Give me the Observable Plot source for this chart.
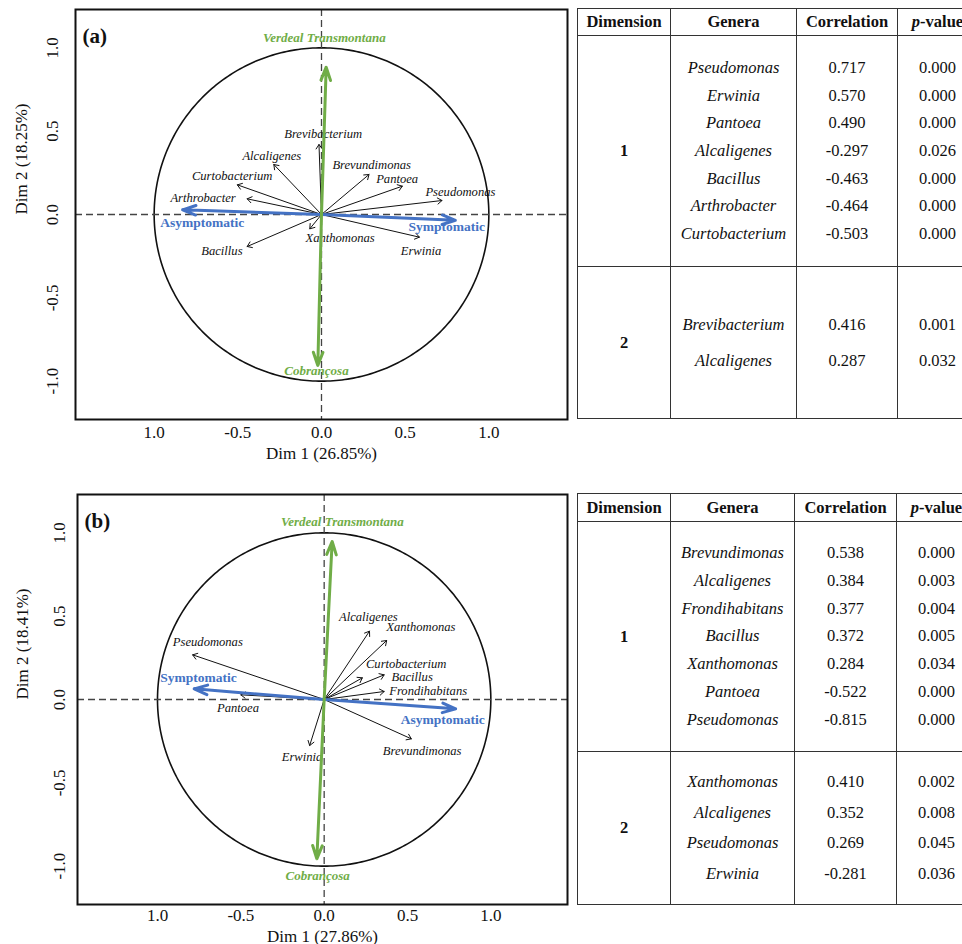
<!DOCTYPE html>
<html><head><meta charset="utf-8">
<script src="https://cdn.jsdelivr.net/npm/d3@7"></script>
<script src="https://cdn.jsdelivr.net/npm/@observablehq/plot@0.6"></script>
<style>
html,body{margin:0;padding:0;background:#fff;overflow:hidden;}
#root{position:relative;width:962px;height:944px;font-family:"Liberation Serif","Times New Roman",serif;color:#111;}
.panel{position:absolute;left:0;}
.tbl{position:absolute;display:grid;border-top:1.5px solid #333;border-left:1.5px solid #333;font-size:16.5px;color:#111;}
.tbl > div{border-right:1.5px solid #333;border-bottom:1.5px solid #333;display:flex;flex-direction:column;justify-content:center;align-items:center;box-sizing:border-box;}
.hdr{font-weight:bold;}
.it{font-style:italic;}
.line{white-space:nowrap;display:flex;align-items:center;justify-content:center;}
</style></head><body><div id="root"></div><script>
// ---------- Panel (a) data ----------
const generaA = ["Pseudomonas","Erwinia","Pantoea","Alcaligenes","Bacillus","Arthrobacter","Curtobacterium","Brevibacterium","Brevundimonas","Xanthomonas"];
const dim1A   = [0.720, 0.585, 0.483, -0.285, -0.444, -0.444, -0.503, -0.015, 0.284, -0.070];
const dim2A   = [0.084, -0.136, 0.170, 0.300, -0.192, 0.094, 0.178, 0.420, 0.240, -0.086];
const labXA   = [0.830, 0.595, 0.452, -0.297, -0.595, -0.708, -0.534, 0.010, 0.300, 0.111];
const labYA   = [0.134, -0.216, 0.214, 0.354, -0.216, 0.100, 0.230, 0.484, 0.300, -0.140];
const suppA   = ["Verdeal Transmontana","Cobrançosa","Asymptomatic","Symptomatic"];
const suppKindA = ["cultivar","cultivar","status","status"];
const sDim1A  = [0.028, -0.022, -0.830, 0.800];
const sDim2A  = [0.884, -0.906, 0.028, -0.035];
const sLabXA  = [0.017, -0.030, -0.713, 0.749];
const sLabYA  = [1.058, -0.936, -0.052, -0.076];

// ---------- Panel (b) data ----------
const generaB = ["Pseudomonas","Pantoea","Alcaligenes","Xanthomonas","Curtobacterium","Bacillus","Frondihabitans","Brevundimonas","Erwinia"];
const dim1B   = [-0.789, -0.500, 0.272, 0.375, 0.229, 0.360, 0.360, 0.523, -0.087];
const dim2B   = [0.268, 0.028, 0.410, 0.354, 0.130, 0.148, 0.048, -0.236, -0.276];
const labXB   = [-0.698, -0.517, 0.265, 0.580, 0.492, 0.528, 0.624, 0.588, -0.133];
const labYB   = [0.344, -0.052, 0.494, 0.434, 0.213, 0.133, 0.052, -0.310, -0.346];
const suppB   = ["Verdeal Transmontana","Cobrançosa","Symptomatic","Asymptomatic"];
const suppKindB = ["cultivar","cultivar","status","status"];
const sDim1B  = [0.048, -0.044, -0.780, 0.789];
const sDim2B  = [0.948, -0.956, 0.064, -0.056];
const sLabXB  = [0.109, -0.039, -0.754, 0.711];
const sLabYB  = [1.068, -1.060, 0.130, -0.122];

// ---------- axes ----------
const xTickValues = [-1, -0.5, 0, 0.5, 1];
const xTickLabels = ["1.0", "-0.5", "0.0", "0.5", "1.0"];
const yTickValues = [-1, -0.5, 0, 0.5, 1];
const yTickLabels = ["-1.0", "-0.5", "0.0", "0.5", "1.0"];
const xTitleA = "Dim 1 (26.85%)", yTitleA = "Dim 2 (18.25%)";
const xTitleB = "Dim 1 (27.86%)", yTitleB = "Dim 2 (18.41%)";

// ---------- tables ----------
const tableHeaders = ["Dimension", "Genera", "Correlation", "p-value"];
const tableDimsA = ["1", "2"];
const tableGeneraA = [["Pseudomonas","Erwinia","Pantoea","Alcaligenes","Bacillus","Arthrobacter","Curtobacterium"],["Brevibacterium","Alcaligenes"]];
const tableCorrA = [["0.717","0.570","0.490","-0.297","-0.463","-0.464","-0.503"],["0.416","0.287"]];
const tablePA = [["0.000","0.000","0.000","0.026","0.000","0.000","0.000"],["0.001","0.032"]];
const tableDimsB = ["1", "2"];
const tableGeneraB = [["Brevundimonas","Alcaligenes","Frondihabitans","Bacillus","Xanthomonas","Pantoea","Pseudomonas"],["Xanthomonas","Alcaligenes","Pseudomonas","Erwinia"]];
const tableCorrB = [["0.538","0.384","0.377","0.372","0.284","-0.522","-0.815"],["0.410","0.352","0.269","-0.281"]];
const tablePB = [["0.000","0.003","0.004","0.005","0.034","0.000","0.000"],["0.002","0.008","0.045","0.036"]];

const BLUE = "#4472C4", GREEN = "#70AD47";
const root = document.getElementById("root");

function rows(names, xs, ys, lx, ly, kinds) {
  return names.map((n, i) => ({name: n, x: xs[i], y: ys[i], lx: lx[i], ly: ly[i], kind: kinds ? kinds[i] : null}));
}

function panel(cfg) {
  const gen = rows(cfg.genera, cfg.d1, cfg.d2, cfg.lx, cfg.ly);
  const sup = rows(cfg.supp, cfg.s1, cfg.s2, cfg.slx, cfg.sly, cfg.kinds);
  const circle = d3.range(0, 361, 1).map(a => ({x: Math.cos(a * Math.PI / 180), y: Math.sin(a * Math.PI / 180)}));
  const xFmt = new Map(xTickValues.map((v, i) => [v, xTickLabels[i]]));
  const yFmt = new Map(yTickValues.map((v, i) => [v, yTickLabels[i]]));
  const blue = sup.filter(d => d.kind === "status"), green = sup.filter(d => d.kind === "cultivar");
  const serif = '"Liberation Serif","Times New Roman",serif';
  return Plot.plot({
    width: 572, height: 470,
    marginLeft: cfg.ml, marginRight: 5, marginTop: 9, marginBottom: 51,
    x: {domain: cfg.xDomain},
    y: {domain: [-1.23, 1.23]},
    style: {fontFamily: serif, fontSize: "17px", background: "transparent", color: "#111", overflow: "visible"},
    marks: [
      Plot.line(circle, {x: "x", y: "y", stroke: "#111", strokeWidth: 1.6}),
      Plot.ruleX([0], {stroke: "#444", strokeDasharray: "7,4", strokeWidth: 1.3}),
      Plot.ruleY([0], {stroke: "#444", strokeDasharray: "7,4", strokeWidth: 1.3}),
      Plot.arrow(gen, {x1: d => 0, y1: d => 0, x2: "x", y2: "y", stroke: "#111", strokeWidth: 1, headLength: 8, headAngle: 70}),
      Plot.text(gen, {x: "lx", y: "ly", text: "name", fontStyle: "italic", fontSize: 12.6, fill: "#111"}),
      Plot.arrow(blue, {x1: d => 0, y1: d => 0, x2: "x", y2: "y", stroke: BLUE, strokeWidth: 3, headLength: 7, headAngle: 40}),
      Plot.arrow(green, {x1: d => 0, y1: d => 0, x2: "x", y2: "y", stroke: GREEN, strokeWidth: 3, headLength: 7, headAngle: 40}),
      Plot.text(blue, {x: "lx", y: "ly", text: "name", fontWeight: "bold", fontSize: 13.5, fill: BLUE}),
      Plot.text(green, {x: "lx", y: "ly", text: "name", fontWeight: "bold", fontStyle: "italic", fontSize: 13, fill: GREEN}),
      Plot.axisX({ticks: xTickValues, tickFormat: d => xFmt.get(d), tickSize: 0, tickPadding: cfg.xpad, label: null, fontSize: 17, fontFamily: serif}),
      Plot.axisY({ticks: yTickValues, tickFormat: d => yFmt.get(d), tickSize: 0, tickRotate: -90, tickPadding: cfg.ypad, label: null, fontSize: 17, fontFamily: serif}),
      Plot.text([cfg.xTitle], {frameAnchor: "bottom", dy: cfg.xtdy, text: d => d, fontSize: 17, fontFamily: serif}),
      Plot.text([cfg.yTitle], {frameAnchor: "left", dx: cfg.ytdx, rotate: -90, text: d => d, fontSize: 17, fontFamily: serif}),
      Plot.text([cfg.tag], {frameAnchor: "top-left", dx: 7, dy: 19, textAnchor: "start", fontWeight: "bold", fontSize: 21, text: d => d, fontFamily: serif}),
      Plot.frame({stroke: "#111", strokeWidth: 2})
    ]
  });
}

function addPanel(cfg, top) {
  const p = panel(cfg);
  const wrap = document.createElement("div");
  wrap.className = "panel";
  wrap.style.top = top + "px";
  wrap.appendChild(p);
  root.appendChild(wrap);
}

addPanel({genera: generaA, d1: dim1A, d2: dim2A, lx: labXA, ly: labYA,
  supp: suppA, kinds: suppKindA, s1: sDim1A, s2: sDim2A, slx: sLabXA, sly: sLabYA,
  ml: 75, xDomain: [-1.47, 1.47], xpad: 6, ypad: 18, xTitle: xTitleA, yTitle: yTitleA, xtdy: 39, ytdx: -54, tag: "(a)"}, 0);
addPanel({genera: generaB, d1: dim1B, d2: dim2B, lx: labXB, ly: labYB,
  supp: suppB, kinds: suppKindB, s1: sDim1B, s2: sDim2B, slx: sLabXB, sly: sLabYB,
  ml: 77, xDomain: [-1.48, 1.46], xpad: 4, ypad: 13, xTitle: xTitleB, yTitle: yTitleB, xtdy: 37, ytdx: -55, tag: "(b)"}, 485);

function addTable(cfg) {
  const t = document.createElement("div");
  t.className = "tbl";
  t.style.left = cfg.left + "px";
  t.style.top = cfg.top + "px";
  t.style.gridTemplateColumns = cfg.cols.map(c => c + "px").join(" ");
  t.style.gridTemplateRows = cfg.rows.map(r => r + "px").join(" ");
  tableHeaders.forEach((h, i) => {
    const c = document.createElement("div");
    c.className = "hdr";
    if (i === 3) c.innerHTML = "<span><i>p</i>-value</span>"; else c.textContent = h;
    t.appendChild(c);
  });
  cfg.dims.forEach((dim, g) => {
    const dc = document.createElement("div");
    dc.className = "hdr"; dc.textContent = dim;
    t.appendChild(dc);
    [cfg.genera[g], cfg.corr[g], cfg.p[g]].forEach((col, k) => {
      const c = document.createElement("div");
      col.forEach(v => {
        const l = document.createElement("div");
        l.className = "line" + (k === 0 ? " it" : "");
        l.style.height = cfg.lineH[g] + "px";
        l.textContent = v;
        c.appendChild(l);
      });
      t.appendChild(c);
    });
  });
  root.appendChild(t);
}

addTable({left: 577, top: 8, cols: [93, 126, 101, 80], rows: [27, 231, 152], lineH: [27.7, 36],
  dims: tableDimsA, genera: tableGeneraA, corr: tableCorrA, p: tablePA});
addTable({left: 577, top: 493, cols: [93, 124, 102, 80], rows: [28, 230, 153], lineH: [27.8, 30.7],
  dims: tableDimsB, genera: tableGeneraB, corr: tableCorrB, p: tablePB});
</script></body></html>
